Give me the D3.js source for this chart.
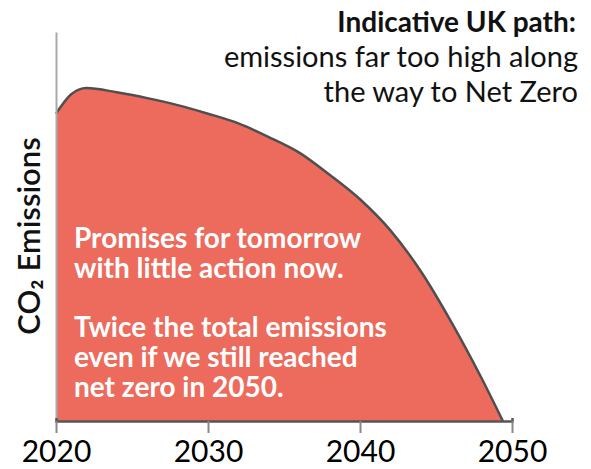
<!DOCTYPE html>
<html>
<head>
<meta charset="utf-8">
<script src="https://cdn.jsdelivr.net/npm/d3@7"></script>
<style>
  body { margin: 0; background: #fff; }
  svg { display: block; font-family: Lato, "Open Sans", sans-serif; }
</style>
</head>
<body>
<script>
// emissions path (arbitrary units, 0..100)
var years = [2020, 2021, 2022, 2024, 2026, 2028, 2030, 2032, 2034, 2036, 2038, 2040, 2042, 2044, 2046, 2048, 2049.4];
var emissions = [79, 84, 85.6, 84.5, 83, 81.2, 79, 76.5, 73, 69, 63.3, 57, 49, 38.5, 25.5, 11, 0];
var tickYears = [2020, 2030, 2040, 2050];
var titleLines = ["emissions far too high along", "the way to Net Zero"];
var noteLines = ["Promises for tomorrow", "with little action now.", "", "Twice the total emissions", "even if we still reached", "net zero in 2050."];

var width = 591, height = 469;
var svg = d3.select("body").append("svg").attr("width", width).attr("height", height);

var x = d3.scaleLinear().domain([2020, 2050]).range([56, 512]);
var y = d3.scaleLinear().domain([0, 100]).range([421, 32]);

var data = years.map(function(d, i) { return {year: d, value: emissions[i]}; });

var area = d3.area()
    .x(function(d) { return x(d.year); })
    .y0(y(0))
    .y1(function(d) { return y(d.value); })
    .curve(d3.curveMonotoneX);

var line = d3.line()
    .x(function(d) { return x(d.year); })
    .y(function(d) { return y(d.value); })
    .curve(d3.curveMonotoneX);

svg.append("path").datum(data)
    .attr("d", area)
    .attr("fill", "#ec6b5c");

svg.append("path").datum(data)
    .attr("d", line)
    .attr("fill", "none")
    .attr("stroke", "#4f4f4f")
    .attr("stroke-width", 2.5)
    .attr("stroke-linejoin", "round");

// y axis is just a plain grey line
var yAxis = svg.append("g")
    .attr("transform", "translate(56,0)")
    .call(d3.axisLeft(y).tickValues([]).tickSizeOuter(0));
yAxis.select(".domain").attr("stroke", "#aaa").attr("stroke-width", 2);

var xAxis = svg.append("g")
    .attr("transform", "translate(0,421)")
    .call(d3.axisBottom(x).tickValues(tickYears).tickFormat(d3.format("d")).tickSize(12).tickSizeOuter(-3));
xAxis.select(".domain").attr("stroke", "#555").attr("stroke-width", 2.5);
xAxis.selectAll(".tick line").attr("stroke", "#888").attr("stroke-width", 2);
xAxis.selectAll(".tick text")
    .attr("y", 41)
    .attr("dy", 0)
    .attr("fill", "#000")
    .style("font-family", "Lato, sans-serif")
    .style("font-size", "30px");

svg.append("text")
    .attr("transform", "translate(40,236) rotate(-90)")
    .attr("text-anchor", "middle")
    .style("font-size", "31px")
    .style("font-weight", 600)
    .attr("fill", "#111")
    .text("CO₂ Emissions");

svg.append("text")
    .attr("x", 576).attr("y", 32)
    .attr("text-anchor", "end")
    .style("font-size", "28px")
    .style("font-weight", 700)
    .attr("fill", "#111")
    .text("Indicative UK path:");

svg.selectAll(".title2").data(titleLines).enter().append("text")
    .attr("x", 578)
    .attr("y", function(d, i) { return 67 + i * 35; })
    .attr("text-anchor", "end")
    .style("font-size", "29px")
    .attr("fill", "#111")
    .text(function(d) { return d; });

svg.selectAll(".note").data(noteLines).enter().append("text")
    .attr("x", 74)
    .attr("y", function(d, i) { return 248 + i * 30 - (i > 2 ? 1 : 0); })
    .style("font-size", "28px")
    .style("font-weight", 700)
    .attr("fill", "#fff")
    .text(function(d) { return d; });
</script>
</body>
</html>
